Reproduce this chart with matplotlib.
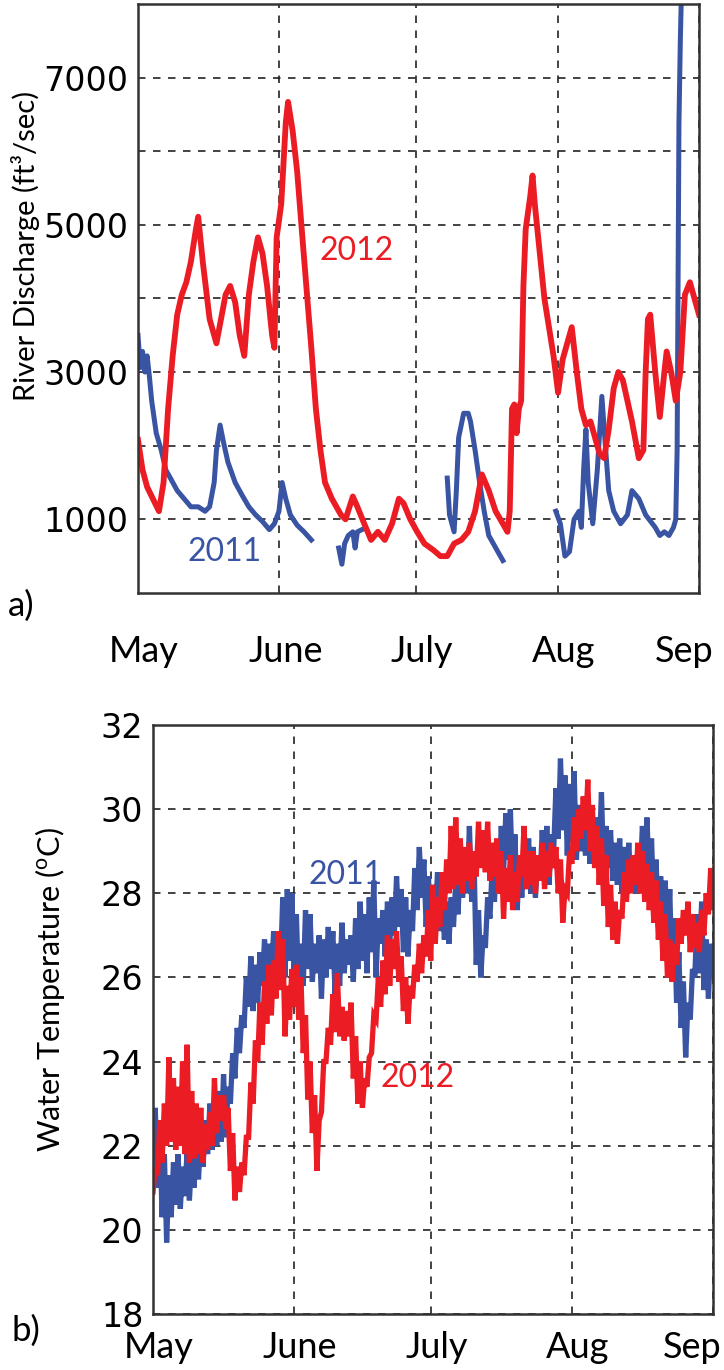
import numpy as np
import matplotlib
matplotlib.use('Agg')
import matplotlib.pyplot as plt
import matplotlib.transforms as mtransforms

RED = '#EC1C24'
BLUE = '#3A54A4'

months = ['May', 'June', 'July', 'Aug', 'Sep']
month_days = [0, 31, 61, 92, 123]

# river discharge, 2012 (days since May 1, ft3/sec)
q2012_day = [0, 1.0, 2.0, 4.6, 5.6, 6.6, 7.6, 8.6, 9.6, 10.6, 11.6, 12.7, 13.2, 14.2, 15.7, 17.2,
             18.2, 19.2, 20.2, 21.3, 22.3, 23.3, 24.3, 25.3, 26.3, 27.3, 28.3, 29.4, 29.9, 30.4,
             31.4, 32.4, 32.9, 33.9, 34.9, 35.9, 36.9, 38.0, 39.0, 40.0, 41.0, 42.5, 44.5, 45.5,
             47.1, 48.1, 49.6, 51.1, 52.6, 54.1, 55.7, 57.2, 58.2, 59.7, 61.2, 62.8, 64.8, 66.3,
             67.8, 69.3, 70.9, 72.4, 73.9, 75.4, 76.9, 78.4, 80.0, 81.0, 81.5, 82.0, 82.5, 83.0,
             83.5, 84.0, 84.5, 85.0, 86.0, 86.5, 87.0, 88.1, 89.1, 90.1, 91.1, 92.1, 93.1, 94.1,
             95.1, 96.2, 97.2, 98.2, 99.2, 100.2, 101.2, 102.2, 103.2, 104.3, 105.3, 106.3, 107.3,
             108.3, 109.8, 110.8, 111.3, 111.8, 112.3, 113.4, 114.4, 115.4, 115.9, 116.9, 117.9,
             118.9, 119.9, 121.0, 122.0, 123.0]
q2012 = [2080, 1670, 1440, 1110, 1500, 2500, 3220, 3780, 4050, 4220, 4500, 4940, 5110, 4500, 3720,
         3390, 3720, 4050, 4170, 3950, 3500, 3220, 4050, 4500, 4830, 4610, 4170, 3500, 3330, 4830,
         5280, 6390, 6670, 6280, 5720, 4940, 4170, 3330, 2500, 1940, 1500, 1280, 1060, 1000,
         1310, 1170, 940, 720, 830, 720, 940, 1280, 1220, 1000, 830, 670, 580, 500,
         500, 670, 720, 830, 1110, 1610, 1390, 1110, 940, 830, 1110, 2500, 2560, 2170,
         2500, 2610, 4170, 4940, 5390, 5670, 5280, 4610, 4000, 3610, 3220, 2720, 3170, 3390,
         3610, 3000, 2500, 2280, 2330, 2110, 1890, 1830, 2220, 2780, 3000, 2890, 2610,
         2330, 1830, 1940, 3000, 3720, 3780, 3000, 2390, 3000, 3280, 3000, 2610,
         3000, 4050, 4220, 4000, 3780]

# river discharge, 2011 (gaps are missing records)
q2011_day = [0, 0.5, 1.0, 1.5, 2.0, 2.5, 3.0, 4.0, 5.1, 6.1, 7.1, 8.6, 10.1, 11.6, 13.2, 14.7,
             15.7, 16.7, 17.2, 18.0, 18.7, 19.7, 21.3, 22.8, 24.3, 25.8, 27.3, 28.8, 29.9, 30.9,
             31.6, 32.4, 33.4, 34.9, 36.4, 38.0,
             38.5,
             44.0, 44.7, 45.3, 46.1, 47.1, 47.6, 48.1, 49.1,
             49.5,
             67.8, 68.3, 69.3, 69.8, 70.3, 71.4, 72.4, 72.9, 73.9, 74.9, 75.9, 76.9, 77.9, 78.9, 80.0,
             80.5,
             91.6, 92.6, 93.6, 94.6, 95.6, 96.7, 97.2, 97.7, 98.2, 98.7, 99.7, 100.7, 101.7, 102.4,
             103.2, 104.3, 105.8, 107.3, 108.3, 109.8, 111.3, 113.4, 114.4, 115.4, 116.4, 117.4,
             117.9, 118.2, 118.4, 118.6, 118.9, 119.2]
q2011 = [3500, 3060, 3280, 3000, 3220, 2940, 2610, 2170, 1940, 1670, 1560, 1390, 1280, 1170, 1170, 1110,
         1170, 1500, 1940, 2280, 2060, 1780, 1500, 1330, 1170, 1060, 970, 860, 940, 1110,
         1500, 1280, 1060, 920, 830, 720,
         np.nan,
         610, 390, 670, 780, 830, 610, 830, 860,
         np.nan,
         1560, 1060, 830, 1390, 2110, 2440, 2440, 2330, 1940, 1500, 1110, 780, 670, 560, 440,
         np.nan,
         1110, 940, 500, 560, 1000, 1110, 890, 1670, 2220, 1500, 940, 1670, 2670, 2060,
         1390, 1110, 940, 1060, 1390, 1280, 1060, 890, 780, 830, 780, 890,
         1000, 1940, 4170, 6390, 7500, 8300]

# water temperature (deg C), daily low / high from May 1 (day 0) to Sep 1 (day 123)
t2011_lo = [21.8, 21.0, 20.3, 19.7, 20.3, 20.6, 20.5, 20.8, 20.7, 21.0, 21.2, 21.5, 21.8, 21.9, 22.0, 22.1,
            22.2, 23.0, 23.6, 24.2, 24.8, 25.3, 25.2, 25.4, 25.8, 25.6, 26.0, 25.9, 26.2, 26.0, 26.4, 26.2,
            25.6, 25.8, 26.2, 25.9, 26.1, 25.5, 26.0, 26.2, 25.6, 25.8, 26.1, 26.3, 25.9, 26.2, 26.4, 26.1,
            26.6, 26.0, 26.8, 26.5, 26.9, 27.0, 27.2, 26.6, 26.5, 27.1, 27.6, 27.9, 27.2, 27.0, 27.4, 27.1,
            26.9, 26.8, 27.2, 27.5, 27.9, 28.0, 27.8, 26.3, 26.0, 26.7, 27.4, 27.8, 28.2, 28.5, 28.8, 28.2,
            27.6, 27.9, 28.1, 28.0, 27.9, 28.3, 28.4, 28.2, 29.0, 29.3, 29.5, 28.9, 29.2, 28.8, 29.0, 28.9,
            28.7, 28.9, 28.9, 28.5, 28.6, 28.3, 28.2, 28.0, 28.3, 28.1, 28.0, 28.4, 28.5, 28.2, 27.6, 27.2,
            27.0, 26.8, 26.0, 25.4, 24.8, 24.1, 25.0, 26.0, 26.1, 25.7, 25.5, 26.0]
t2011_hi = [22.9, 22.5, 21.8, 21.3, 21.6, 21.8, 21.5, 21.9, 21.7, 22.0, 22.3, 22.6, 23.0, 22.8, 23.3, 23.7,
            23.4, 24.2, 24.8, 25.1, 26.0, 26.5, 26.3, 26.6, 26.9, 26.8, 27.1, 27.0, 27.9, 28.1, 28.0, 27.5,
            26.8, 27.6, 27.5, 26.8, 27.0, 26.9, 27.2, 27.1, 26.8, 27.3, 26.9, 27.0, 27.4, 27.8, 27.5, 27.9,
            28.3, 27.4, 27.6, 27.8, 27.9, 28.4, 28.1, 27.9, 27.6, 28.6, 29.1, 28.8, 28.4, 28.2, 28.5, 28.0,
            27.8, 27.9, 28.3, 28.8, 29.0, 29.6, 28.9, 27.6, 27.0, 27.9, 28.6, 29.0, 29.6, 29.9, 30.0, 29.4,
            28.8, 29.0, 29.3, 29.1, 28.8, 29.5, 29.6, 29.4, 30.5, 31.2, 30.8, 30.6, 30.9, 30.1, 29.9, 30.1,
            29.6, 29.8, 30.4, 29.6, 29.5, 29.2, 29.3, 29.1, 29.2, 28.9, 29.1, 29.6, 29.8, 29.3, 28.8, 28.4,
            28.3, 28.1, 27.4, 26.6, 25.9, 25.4, 26.2, 27.5, 27.8, 26.9, 26.8, 26.9]
t2012_lo = [20.9, 21.3, 21.6, 22.0, 22.1, 21.9, 22.0, 21.8, 21.6, 21.7, 21.8, 21.6, 21.9, 22.0, 22.3, 22.6,
            22.4, 21.4, 20.7, 20.9, 21.3, 22.2, 23.0, 24.0, 24.4, 24.9, 25.1, 25.5, 25.7, 24.6, 25.0, 25.3,
            25.0, 24.2, 23.1, 22.3, 21.4, 22.8, 24.0, 24.4, 24.7, 24.6, 24.5, 24.6, 23.6, 23.0, 22.9, 23.4,
            24.2, 25.0, 25.3, 25.6, 25.8, 26.2, 25.9, 25.2, 24.9, 25.5, 25.9, 26.1, 26.5, 26.4, 26.8, 27.2,
            27.6, 28.0, 28.1, 28.2, 28.0, 28.3, 28.1, 28.4, 28.6, 28.5, 28.3, 28.4, 28.0, 27.4, 27.8, 27.6,
            27.8, 28.4, 28.1, 28.2, 28.0, 28.3, 28.1, 28.4, 28.6, 28.0, 27.3, 28.0, 28.7, 29.0, 29.3, 29.5,
            29.0, 28.6, 28.2, 27.7, 27.2, 26.9, 26.8, 27.4, 27.8, 28.0, 28.2, 28.0, 27.8, 27.6, 27.3, 26.9,
            26.4, 26.0, 25.9, 26.3, 26.8, 27.0, 26.6, 26.7, 26.6, 27.0, 27.5, 27.6]
t2012_hi = [21.5, 22.6, 23.0, 24.1, 23.6, 23.4, 24.0, 24.4, 23.3, 23.0, 22.9, 22.5, 22.8, 23.6, 23.2, 23.2,
            22.9, 22.3, 21.5, 21.6, 22.2, 23.5, 24.5, 25.4, 25.9, 26.3, 26.4, 27.1, 26.9, 25.8, 26.2, 26.3,
            26.0, 25.1, 24.0, 23.2, 22.6, 24.0, 24.8, 25.6, 26.1, 25.3, 25.2, 25.4, 24.6, 24.0, 23.6, 24.1,
            25.1, 26.0, 26.4, 27.0, 26.9, 27.1, 26.5, 26.0, 25.8, 26.3, 26.8, 27.0, 27.6, 28.2, 27.9, 28.5,
            28.8, 29.6, 29.8, 29.3, 29.1, 29.2, 29.0, 29.7, 29.5, 29.7, 29.2, 29.3, 29.0, 28.6, 28.9, 28.5,
            28.9, 29.6, 29.0, 29.0, 28.9, 29.2, 29.0, 29.2, 29.1, 28.8, 28.1, 29.0, 29.8, 30.0, 30.3, 30.7,
            30.1, 29.6, 29.3, 28.9, 28.2, 27.8, 27.6, 28.5, 28.8, 28.9, 29.2, 29.0, 28.7, 28.5, 28.3, 27.8,
            27.5, 26.9, 26.8, 27.4, 27.6, 27.8, 27.5, 27.3, 27.6, 28.0, 28.6, 28.6]


def zigzag(lo, hi):
    # one low and one high reading per day
    days = np.arange(len(lo))
    x = np.column_stack([days, days + 0.5]).ravel()
    y = np.column_stack([lo, hi]).ravel()
    return x, y


tick_font = ['DejaVu Sans']
text_font = ['Lato', 'DejaVu Sans']
plt.rcParams['mathtext.fontset'] = 'custom'
plt.rcParams['mathtext.rm'] = 'Lato'
plt.rcParams['mathtext.it'] = 'Lato'


def style_axes(ax, xpad, sep_shift):
    for s in ax.spines.values():
        s.set_linewidth(1.8)
        s.set_color('#333333')
    ax.grid(True, color='#222222', linestyle=(0, (4.5, 4.5)), linewidth=1.2)
    ax.tick_params(axis='y', length=0, pad=7)
    ax.tick_params(axis='x', length=0, pad=xpad)
    ax.set_xlim(0, 123)
    ax.set_xticks(month_days)
    ax.set_xticklabels(months, fontsize=26, family=text_font)
    dpi_tr = ax.figure.dpi_scale_trans
    labels = ax.get_xticklabels()
    for lab in labels[:-1]:
        lab.set_transform(lab.get_transform() + mtransforms.ScaledTranslation(6 / 100, 0, dpi_tr))
    # keep "Sep" inside the figure
    labels[-1].set_transform(labels[-1].get_transform() + mtransforms.ScaledTranslation(sep_shift / 100, 0, dpi_tr))
    for t in ax.get_yticklabels():
        t.set_family(tick_font)
        t.set_fontsize(24)


fig = plt.figure(figsize=(7.24, 13.70), dpi=100)

# a) river discharge
ax1 = fig.add_axes([0.1906, 0.5672, 0.7749, 0.4299])
ax1.plot(q2011_day, q2011, color=BLUE, lw=3.6, solid_joinstyle='round')
ax1.plot(q2012_day, q2012, color=RED, lw=4.2, solid_joinstyle='round')
ax1.set_ylim(0, 8000)
ax1.set_yticks(range(1000, 8000, 1000))
ax1.set_yticklabels(['1000', '', '3000', '', '5000', '', '7000'])
style_axes(ax1, 30, -15)
ax1.set_ylabel('River Discharge (ft³/sec)', fontsize=21, family=text_font)
ax1.yaxis.set_label_coords(-0.175, 0.59)
ax1.text(48, 4650, '2012', color=RED, fontsize=23, family=text_font, ha='center', va='center')
ax1.text(19, 560, '2011', color=BLUE, fontsize=23, family=text_font, ha='center', va='center')

# b) water temperature
ax2 = fig.add_axes([0.2113, 0.0409, 0.7735, 0.4299])
x11, y11 = zigzag(t2011_lo, t2011_hi)
x12, y12 = zigzag(t2012_lo, t2012_hi)
ax2.plot(x11, y11, color=BLUE, lw=3.8, solid_joinstyle='miter')
ax2.plot(x12, y12, color=RED, lw=3.8, solid_joinstyle='miter')
ax2.set_ylim(18, 32)
ax2.set_yticks(range(18, 33, 2))
style_axes(ax2, 12, -21)
ax2.set_ylabel('Water Temperature ($^{\\mathrm{o}}$C)', fontsize=22, family=text_font)
ax2.yaxis.set_label_coords(-0.154, 0.55)
ax2.text(42.2, 28.43, '2011', color=BLUE, fontsize=23, family=text_font, ha='center', va='center')
ax2.text(58.2, 23.6, '2012', color=RED, fontsize=23, family=text_font, ha='center', va='center')

fig.text(21 / 724, 1 - 606 / 1370, 'a)', fontsize=25, family=text_font, ha='center', va='center')
fig.text(26 / 724, 1 - 1331 / 1370, 'b)', fontsize=25, family=text_font, ha='center', va='center')

fig.savefig('out.png', dpi=100)
